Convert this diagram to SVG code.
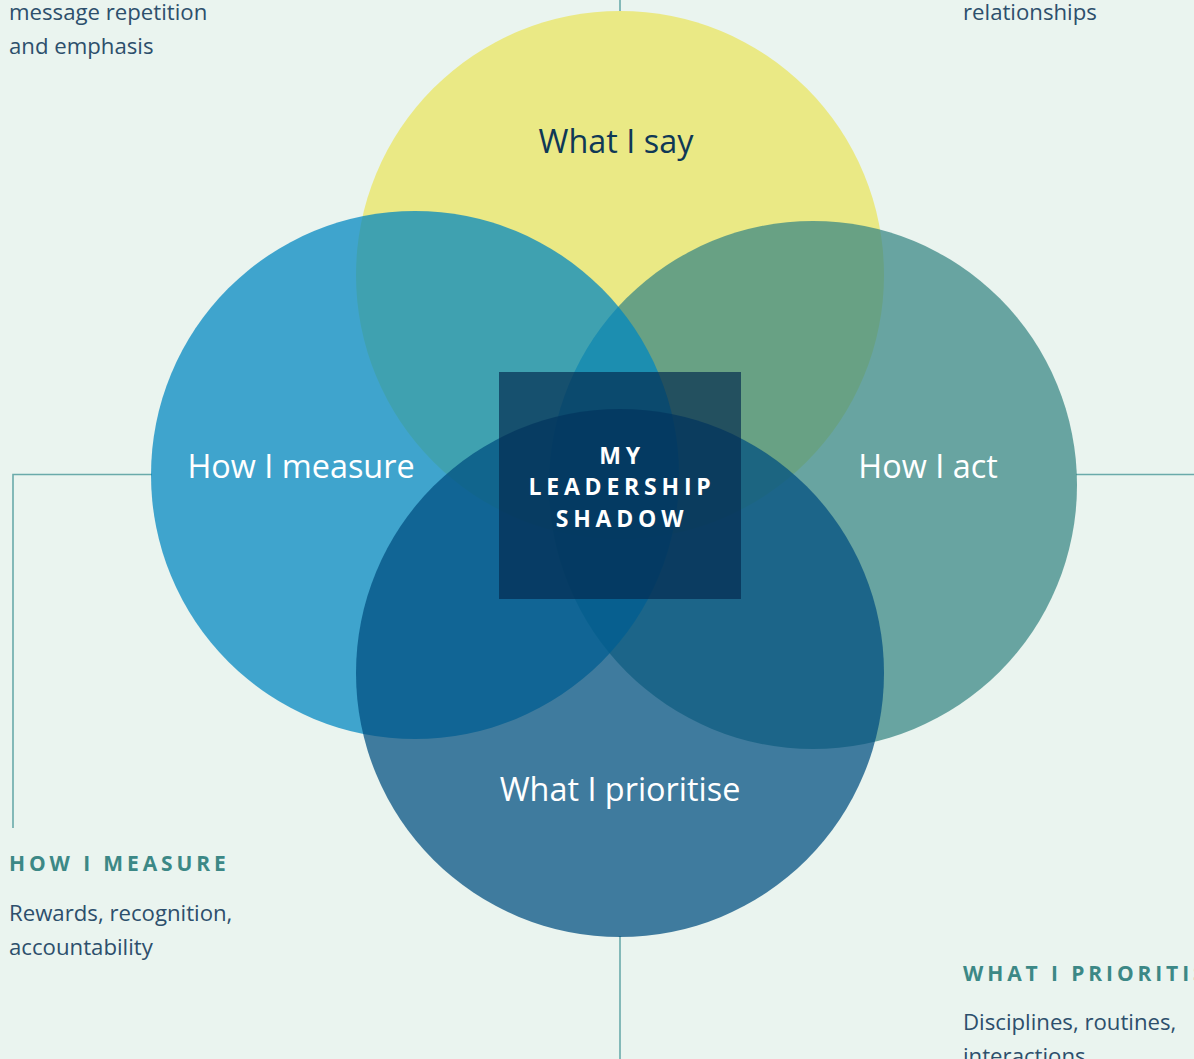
<svg xmlns="http://www.w3.org/2000/svg" width="1194" height="1059" viewBox="0 0 1194 1059">
<style>
.body{font-family:"Open Sans","Noto Sans","Liberation Sans",sans-serif;font-size:22.2px;fill:#2D4F6C}
.head{font-family:"Open Sans","Noto Sans","Liberation Sans",sans-serif;font-size:21px;font-weight:700;letter-spacing:3.9px;fill:#3C8886}
.lbl{font-family:"Open Sans","Noto Sans","Liberation Sans",sans-serif;font-size:32.4px;text-anchor:middle;fill:#FFFFFF}
.ctr{font-family:"Open Sans","Noto Sans","Liberation Sans",sans-serif;font-size:23px;font-weight:700;letter-spacing:4.8px;text-anchor:middle;fill:#FFFFFF}
.conn{fill:none;stroke:#6AAAAA;stroke-width:1.6}
</style>
<rect width="1194" height="1059" fill="#EAF4EF"/>
<g id="connectors">
<line class="conn" x1="620" y1="0" x2="620" y2="12"/>
<polyline class="conn" points="152,474.5 13,474.5 13,828"/>
<line class="conn" x1="1076" y1="474.5" x2="1194" y2="474.5"/>
<line class="conn" x1="620" y1="936" x2="620" y2="1059"/>
</g>
<g id="what-i-say">
<circle cx="620" cy="275" r="264" fill="#EAE985"/>
</g>
<g id="how-i-act">
<circle cx="813" cy="485" r="264" fill="#388683" fill-opacity="0.73"/>
</g>
<g id="how-i-measure">
<circle cx="415" cy="475" r="264" fill="#0086C0" fill-opacity="0.73"/>
</g>
<g id="what-i-prioritise">
<circle cx="620" cy="673" r="264" fill="#004E7F" fill-opacity="0.73"/>
</g>
<g id="center">
<rect x="499" y="372" width="242" height="227" fill="#032A4E" fill-opacity="0.68"/>
<text class="ctr" x="622" y="464">MY</text>
<text class="ctr" x="622" y="495">LEADERSHIP</text>
<text class="ctr" x="622" y="527">SHADOW</text>
</g>
<g id="labels">
<text class="lbl" x="616" y="153" style="fill:#0F3856">What I say</text>
<text class="lbl" x="301" y="478">How I measure</text>
<text class="lbl" x="928" y="478">How I act</text>
<text class="lbl" x="620" y="801">What I prioritise</text>
</g>
<g id="note-say">
<text class="body" x="9" y="20">message repetition</text>
<text class="body" x="9" y="54">and emphasis</text>
</g>
<g id="note-act">
<text class="body" x="963" y="20">relationships</text>
</g>
<g id="note-measure">
<text class="head" x="9" y="871">HOW I MEASURE</text>
<text class="body" x="9" y="921">Rewards, recognition,</text>
<text class="body" x="9" y="955">accountability</text>
</g>
<g id="note-prioritise">
<text class="head" x="963" y="981">WHAT I PRIORITISE</text>
<text class="body" x="963" y="1030">Disciplines, routines,</text>
<text class="body" x="963" y="1064">interactions</text>
</g>
</svg>
